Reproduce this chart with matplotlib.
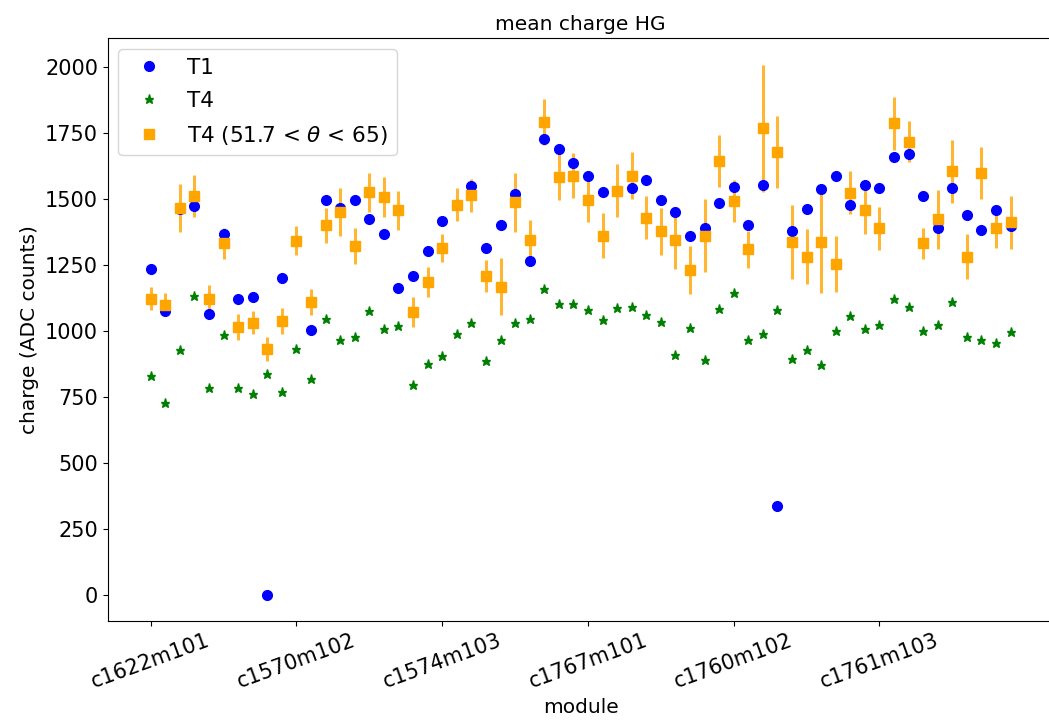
import numpy as np
import matplotlib
matplotlib.use("Agg")
import matplotlib.pyplot as plt

# module labels shown on the x axis (one every 10 channels)
tick_pos = [0, 10, 20, 30, 40, 50]
tick_labels = ["c1622m101", "c1570m102", "c1574m103",
               "c1767m101", "c1760m102", "c1761m103"]

# mean charge per channel, T1 trigger
t1 = [1235, 1075, 1460, 1472, 1065, 1366, 1122, 1128, 0, 1201,
      1342, 1002, 1495, 1466, 1496, 1422, 1366, 1162, 1207, 1303,
      1417, 1478, 1548, 1315, 1400, 1520, 1264, 1728, 1689, 1638,
      1587, 1525, 1531, 1541, 1572, 1496, 1451, 1361, 1389, 1485,
      1546, 1400, 1553, 334, 1377, 1462, 1536, 1587, 1478, 1553,
      1543, 1660, 1672, 1512, 1388, 1541, 1439, 1383, 1457, 1396]

# mean charge per channel, T4 trigger
t4 = [829, 727, 926, 1131, 784, 983, 784, 761, 836, 768,
      930, 818, 1045, 965, 977, 1074, 1006, 1017, 795, 875,
      904, 989, 1028, 886, 965, 1028, 1045, 1157, 1101, 1101,
      1078, 1039, 1085, 1089, 1061, 1032, 907, 1010, 891, 1084,
      1142, 965, 988, 1079, 892, 926, 870, 999, 1056, 1006,
      1022, 1119, 1089, 999, 1022, 1108, 977, 965, 953, 994]

# T4 with angular cut, mean and spread
t4_cut = [1122, 1099, 1466, 1512, 1122, 1332, 1015, 1031, 930, 1037,
          1342, 1110, 1400, 1451, 1321, 1525, 1507, 1457, 1071, 1185,
          1315, 1478, 1514, 1207, 1167, 1487, 1343, 1791, 1582, 1588,
          1497, 1361, 1531, 1588, 1429, 1377, 1343, 1230, 1361, 1645,
          1491, 1309, 1768, 1678, 1337, 1281, 1337, 1253, 1524, 1457,
          1389, 1786, 1717, 1332, 1422, 1604, 1281, 1598, 1389, 1411]
t4_cut_err = [43, 44, 90, 80, 53, 58, 49, 44, 45, 50,
              55, 50, 66, 90, 67, 74, 76, 73, 56, 56,
              53, 62, 62, 61, 109, 113, 76, 87, 88, 86,
              86, 84, 100, 90, 82, 90, 110, 92, 140, 98,
              80, 70, 240, 135, 141, 104, 194, 107, 82, 91,
              82, 101, 78, 59, 113, 119, 85, 98, 77, 100]

x = np.arange(len(t1))

fig = plt.figure(figsize=(10.49, 7.23), dpi=100)
ax = fig.add_axes([0.1027, 0.1411, 0.9017, 0.8057])

ax.errorbar(x, t4_cut, yerr=t4_cut_err, fmt="none", ecolor="orange",
            elinewidth=2.2, alpha=0.8)
ax.plot(x, t1, "o", color="blue", ms=7, label="T1")
ax.plot(x, t4, "*", color="green", ms=6.5, label="T4")
ax.plot(x, t4_cut, "s", color="orange", ms=7.5,
        label=r"T4 (51.7 < $\theta$ < 65)")

ax.set_xticks(tick_pos)
ax.set_xticklabels(tick_labels, rotation=20)
ax.tick_params(labelsize=15)
ax.set_xlabel("module", fontsize=14.5)
ax.set_ylabel("charge (ADC counts)", fontsize=14.5)
ax.set_title("mean charge HG", fontsize=14.5)
ax.legend(loc="upper left", fontsize=15.5, labelspacing=0.6)

fig.savefig("out.png", dpi=100)
